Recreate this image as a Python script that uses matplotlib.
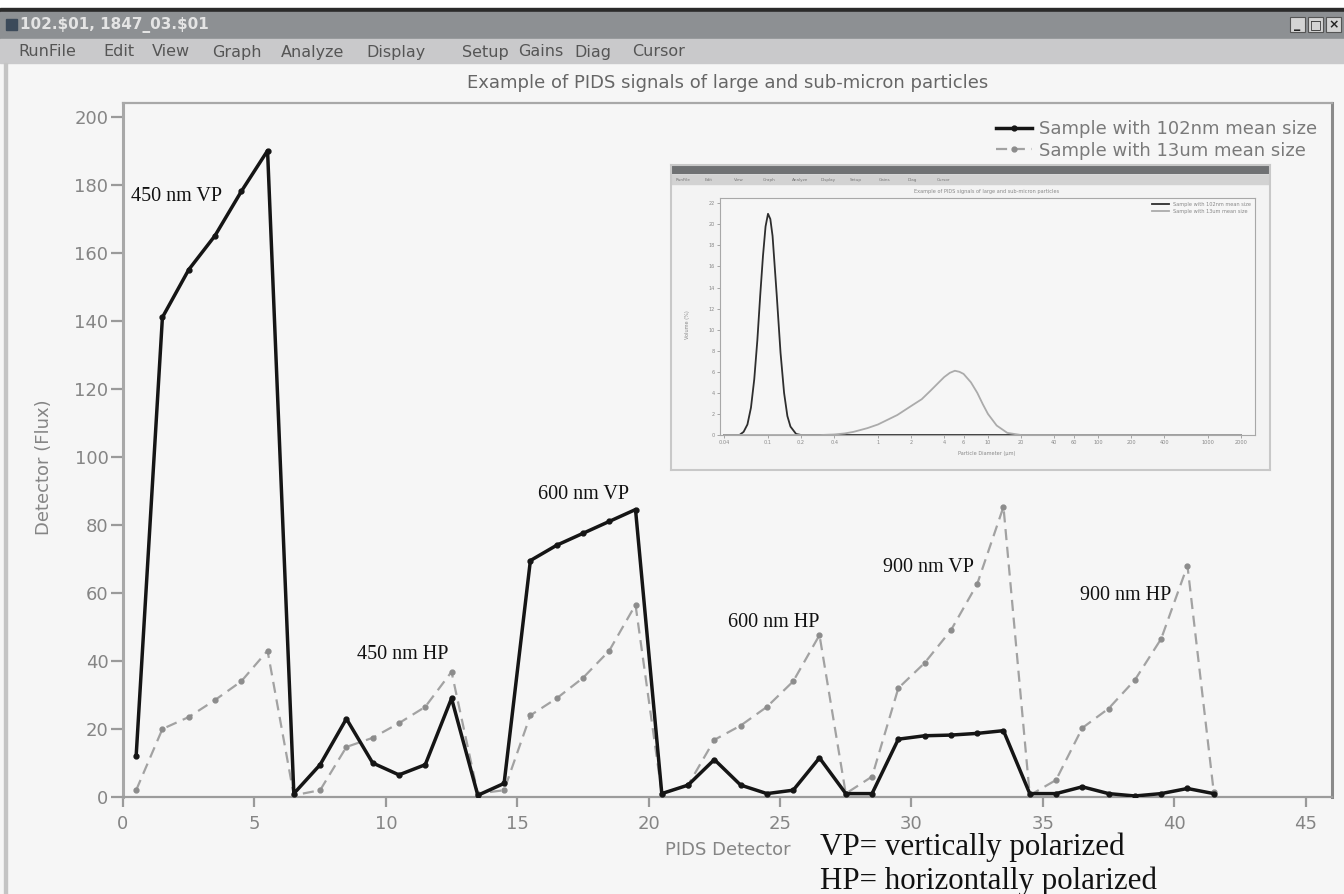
"""
PIDS detector signals for a sub-micron and a large-particle sample,
drawn inside a mock LS-analyser window with the size-distribution inset.
"""

import matplotlib
matplotlib.use('Agg')
import matplotlib.pyplot as plt
from matplotlib.patches import Rectangle
from matplotlib.lines import Line2D

plt.rcParams['font.family'] = ['DejaVu Sans']

# ─────────────────────────────────────────────────────────────
# Data
# ─────────────────────────────────────────────────────────────

DETECTOR = [0.5, 1.5, 2.5, 3.5, 4.5, 5.5, 6.5, 7.5, 8.5, 9.5,
            10.5, 11.5, 12.5, 13.5, 14.5, 15.5, 16.5, 17.5, 18.5, 19.5,
            20.5, 21.5, 22.5, 23.5, 24.5, 25.5, 26.5, 27.5, 28.5, 29.5,
            30.5, 31.5, 32.5, 33.5, 34.5, 35.5, 36.5, 37.5, 38.5, 39.5,
            40.5, 41.5]

FLUX_102NM = [12, 141, 155, 165, 178, 190, 1, 9.5, 23, 10,
              6.5, 9.5, 29, 0.5, 4, 69.5, 74, 77.5, 81, 84.5,
              1, 3.5, 11, 3.5, 1, 2, 11.5, 1, 1, 17,
              18, 18.2, 18.7, 19.5, 1, 1, 3, 1, 0.3, 1,
              2.5, 1]

FLUX_13UM = [2, 20, 23.5, 28.5, 34, 43, 0.5, 2, 14.7, 17.4,
             21.7, 26.5, 36.8, 1, 2, 24, 29, 35, 43, 56.5,
             1, 3.5, 16.8, 21, 26.5, 34, 47.6, 1, 6, 32,
             39.4, 49, 62.6, 85.3, 0.5, 5, 20.3, 26, 34.4, 46.5,
             68, 1.5]

SERIES_LABELS = ['Sample with 102nm mean size', 'Sample with 13um mean size']

PEAK_LABELS = ['450 nm VP', '450 nm HP', '600 nm VP',
               '600 nm HP', '900 nm VP', '900 nm HP']
PEAK_ANCHORS = [(0.3, 176.5), (8.9, 41.8), (15.8, 88.8),
                (23.0, 51.2), (28.9, 67.6), (36.4, 59.1)]

MENU_ITEMS = ['RunFile', 'Edit', 'View', 'Graph', 'Analyze',
              'Display', 'Setup', 'Gains', 'Diag', 'Cursor']

# inset: particle size distribution (volume %)
PSD_D_102NM = [0.04, 0.055, 0.06, 0.065, 0.07, 0.075, 0.08, 0.085, 0.09,
               0.095, 0.1, 0.105, 0.11, 0.12, 0.13, 0.14, 0.15, 0.16,
               0.18, 0.2, 2000]
PSD_V_102NM = [0, 0, 0.3, 1.0, 2.6, 5.3, 9.0, 13.3, 17.0,
               19.8, 21.0, 20.5, 18.9, 13.3, 7.8, 4.0, 1.8, 0.8,
               0.1, 0, 0]
PSD_D_13UM = [0.04, 0.3, 0.4, 0.5, 0.6, 0.8, 1, 1.5, 2, 2.5, 3, 3.5, 4,
              4.5, 5, 5.5, 6, 7, 8, 9, 10, 12, 15, 20, 2000]
PSD_V_13UM = [0, 0, 0.05, 0.15, 0.3, 0.65, 1.0, 1.9, 2.75, 3.4, 4.2, 4.9,
              5.5, 5.9, 6.1, 6.0, 5.8, 5.0, 4.0, 2.9, 2.0, 0.9, 0.2, 0, 0]
PSD_TICKS = [0.04, 0.1, 0.2, 0.4, 1, 2, 4, 6, 10, 20, 40, 60, 100,
             200, 400, 1000, 2000]
PSD_TICK_LABELS = ['0.04', '0.1', '0.2', '0.4', '1', '2', '4', '6', '10',
                   '20', '40', '60', '100', '200', '400', '1000', '2000']

W, H = 1344, 894
PANEL = '#f6f6f6'
GREY_TXT = '#858585'


def frac(x0, y0, x1, y1):
    """Pixel box (top-left origin) -> figure fraction rect."""
    return [x0 / W, 1 - y1 / H, (x1 - x0) / W, (y1 - y0) / H]


fig = plt.figure(figsize=(W / 100, H / 100), dpi=100)
fig.patch.set_facecolor(PANEL)

# ── window chrome ──
bg = fig.add_axes([0, 0, 1, 1], zorder=0)
bg.set_xlim(0, W)
bg.set_ylim(H, 0)
bg.axis('off')
bg.add_patch(Rectangle((0, 0), W, 8, color='#ffffff'))
bg.add_patch(Rectangle((0, 8), W, 4, color='#2a2a2a'))
bg.add_patch(Rectangle((0, 12), W, 27, color='#8d9093'))
bg.add_patch(Rectangle((0, 39), W, 24, color='#c9c9cb'))
bg.add_patch(Rectangle((4, 63), 3, H - 63, color='#c4c4c4'))
bg.add_patch(Rectangle((6, 19), 11, 11, color='#3c4a5a'))
bg.text(20, 25, '102.\\$01, 1847_03.\\$01', fontsize=11, color='#e4e4e4',
        fontweight='bold', va='center', ha='left')
menu_x = [18, 103, 152, 212, 281, 366, 462, 518, 574, 632]
for label, mx in zip(MENU_ITEMS, menu_x):
    bg.text(mx, 52, label, fontsize=11.5, color='#555555', va='center', ha='left')
for i, sym in enumerate(['_', '\u25a1', '\u00d7']):
    bx = 1290 + i * 18
    bg.add_patch(Rectangle((bx, 17), 15, 15, facecolor='#d4d4d4',
                           edgecolor='#555555', linewidth=0.8))
    bg.text(bx + 7.5, 24.5, sym, fontsize=9, color='#222222',
            ha='center', va='center', fontweight='bold')

# ── main chart ──
ax = fig.add_axes(frac(123, 103, 1332, 797), zorder=1)
ax.set_facecolor(PANEL)

ax.plot(DETECTOR, FLUX_102NM, color='#151515', lw=2.5, marker='o', ms=3.5,
        label=SERIES_LABELS[0], zorder=3)
ax.plot(DETECTOR, FLUX_13UM, color='#a2a2a2', lw=1.6, dashes=(5, 3),
        marker='o', ms=3.5, mfc='#8c8c8c', mec='#8c8c8c',
        label=SERIES_LABELS[1], zorder=2)

ax.set_xlim(0, 46)
ax.set_ylim(0, 204)
ax.set_xticks(range(0, 46, 5))
ax.set_yticks(range(0, 201, 20))
ax.tick_params(axis='y', direction='out', length=8.5, width=1.6,
               color='#9a9a9a', pad=2, labelsize=13, labelcolor=GREY_TXT)
ax.tick_params(axis='x', direction='out', length=7, width=1.6,
               color='#9a9a9a', pad=6, labelsize=13, labelcolor=GREY_TXT)
for side, c, lw in [('left', '#a8a8a8', 2.2), ('bottom', '#9c9c9c', 1.6),
                    ('top', '#a8a8a8', 1.6), ('right', '#8a8a8a', 2.2)]:
    ax.spines[side].set_color(c)
    ax.spines[side].set_linewidth(lw)

ax.set_xlabel('PIDS Detector', fontsize=13, color=GREY_TXT)
ax.xaxis.set_label_coords(0.5, -(841 - 797) / 694)
ax.set_ylabel('Detector (Flux)', fontsize=13, color=GREY_TXT)
ax.yaxis.set_label_coords(-(123 - 53) / 1209, (797 - 467) / 694)
ax.set_title('Example of PIDS signals of large and sub-micron particles',
             fontsize=13, color='#666666', pad=11)

leg = ax.legend(loc='upper right', bbox_to_anchor=(1326 / W, 1 - 111 / H),
                bbox_transform=fig.transFigure, frameon=False, fontsize=13,
                handlelength=2.0, handletextpad=0.4, labelspacing=0.2,
                borderpad=0)
for t in leg.get_texts():
    t.set_color('#7a7a7a')
bg.plot([1043, 1323], [134, 134], color='#8a8a8a', lw=1.0, zorder=5)

for label, (px, py) in zip(PEAK_LABELS, PEAK_ANCHORS):
    ax.text(px, py, label, fontsize=14.5, family='Liberation Serif',
            color='#111111', ha='left', va='center', zorder=4)

fig.text(820 / W, 1 - 855 / H, 'VP= vertically polarized', fontsize=22.3,
         family='Liberation Serif', color='#111111', va='baseline', ha='left')
fig.text(820 / W, 1 - 889 / H, 'HP= horizontally polarized', fontsize=22.3,
         family='Liberation Serif', color='#111111', va='baseline', ha='left')

# ── inset screenshot: particle size distribution ──
frame = fig.add_axes(frac(671, 165, 1270, 470), zorder=2)
frame.set_xlim(671, 1270)
frame.set_ylim(470, 165)
frame.set_facecolor('#f3f3f3')
frame.set_xticks([])
frame.set_yticks([])
for s in frame.spines.values():
    s.set_color('#c8c8c8')
    s.set_linewidth(1.5)
frame.add_patch(Rectangle((671, 166), 599, 7, color='#6f7173'))
frame.add_patch(Rectangle((671, 175), 599, 9, color='#d2d2d2'))
for i, label in enumerate(MENU_ITEMS):
    frame.text(676 + i * 29, 179.5, label, fontsize=3, color='#777777',
               va='center', ha='left')
frame.text(987, 191, 'Example of PIDS signals of large and sub-micron particles',
           fontsize=3.6, color='#888888', ha='center', va='center')
frame.text(987, 453, 'Particle Diameter (\u00b5m)', fontsize=3.6,
           color='#888888', ha='center', va='center')
frame.text(688, 325, 'Volume (%)', fontsize=3.6, color='#888888',
           ha='center', va='center', rotation=90)

inner = fig.add_axes(frac(720, 198, 1255, 435), zorder=3)
inner.set_facecolor('#f6f6f6')
inner.plot(PSD_D_102NM, PSD_V_102NM, color='#2e2e2e', lw=1.3)
inner.plot(PSD_D_13UM, PSD_V_13UM, color='#ababab', lw=1.3)
inner.set_xscale('log')
inner.set_xlim(0.0366, 2680)
inner.set_ylim(0, 22.5)
inner.set_xticks(PSD_TICKS)
inner.set_xticklabels(PSD_TICK_LABELS)
inner.minorticks_off()
inner.set_yticks(range(0, 23, 2))
inner.tick_params(labelsize=3.6, labelcolor='#888888', color='#999999',
                  length=2, width=0.6, pad=1.5)
for s in inner.spines.values():
    s.set_color('#a8a8a8')
    s.set_linewidth(0.8)
inner.legend(handles=[Line2D([], [], color='#2e2e2e', lw=1.3),
                      Line2D([], [], color='#ababab', lw=1.3)],
             labels=SERIES_LABELS, loc='upper right', frameon=False,
             fontsize=3.6, handlelength=3.5, labelspacing=0.3,
             borderpad=0.3, labelcolor='#888888')

fig.savefig('out.png', dpi=100, facecolor=fig.get_facecolor())
